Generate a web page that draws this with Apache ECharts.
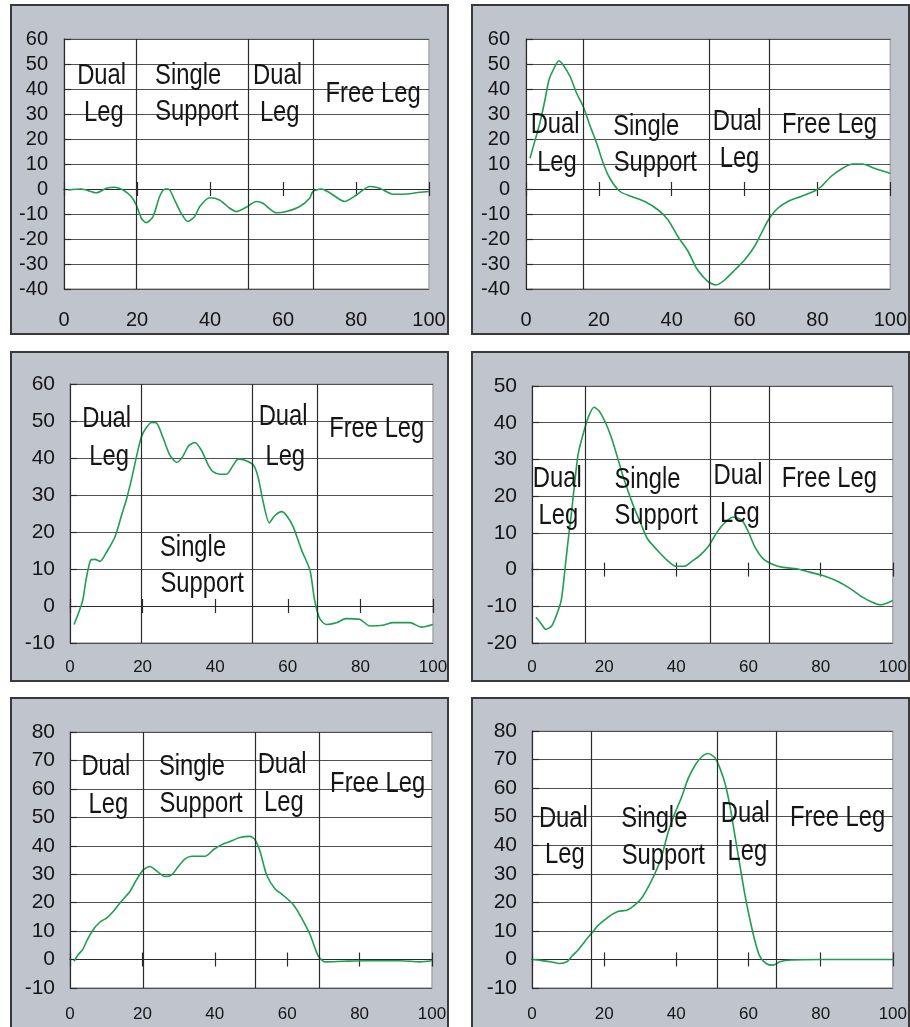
<!DOCTYPE html>
<html><head><meta charset="utf-8">
<script src="https://cdn.jsdelivr.net/npm/echarts@6/dist/echarts.min.js"></script>
<style>html,body{margin:0;padding:0;background:#fff}#c{width:910px;height:1027px}</style>
</head><body><div id="c"></div>
<script>
// ---- data ----
const curve1 = [[1.1,-0.4],[4.7,0],[8.9,-1.5],[11.6,0.3],[13.9,0.7],[16.2,-0.4],[18.4,-3],[19.8,-6.4],[21.2,-11.7],[22.5,-13.5],[24.4,-11],[26.2,-3],[27.7,0],[28.6,0],[30.3,-4.4],[32.1,-9.7],[33.9,-13],[35.8,-11],[37.2,-7],[39.9,-3.5],[42.6,-4.4],[45.4,-7.7],[47.2,-9],[49.9,-7.3],[52.7,-5],[54.5,-5.7],[58.1,-9.5],[60.9,-9],[64.6,-7],[67.3,-3.7],[68.2,-1],[70.5,0],[72.8,-1.5],[76.9,-5],[80.1,-2.4],[83.8,1],[86.5,0.3],[90.2,-2.1],[93.8,-2],[97.5,-1.3],[100,-1]];
const curve2 = [[1.1,12.3],[2.5,19.6],[3.8,26.3],[5.2,35.6],[6.3,43.6],[7.7,48.3],[9.0,51.3],[10.2,49.6],[12.1,45],[13.9,38.3],[15.7,33],[17.5,25.6],[19.4,18.3],[21.2,10.3],[23,4.3],[25.8,-1],[29,-3],[32.6,-5],[36.3,-8.4],[39,-12.4],[41.7,-19],[44.5,-25],[46.8,-31.7],[49,-35.7],[50.4,-37.5],[52.2,-38.4],[54.5,-36.4],[57.3,-32.4],[60,-28.4],[62.7,-23],[64.6,-17.7],[66.8,-11.7],[69.1,-7.7],[71.9,-5],[75.5,-3],[79.2,-0.8],[81,0.9],[83.7,5],[86.9,8.3],[89.7,10],[92.4,10],[95.6,8.3],[100,6.3]];
const curve3 = [[1.1,-5],[2.3,-2],[3.5,1.5],[4.4,7],[5.7,12.4],[6.9,12.6],[8.3,12.1],[10.1,14.6],[12.4,18.7],[14.2,24.5],[15.6,29],[17,34.5],[18.3,40.3],[19.7,45.8],[21.1,48.3],[22.5,49.6],[23.9,49.4],[25.7,45.3],[27.5,40.8],[29.4,38.8],[31,40.3],[32.6,43.2],[34.4,44.2],[36.2,42.1],[38.1,38.1],[39.4,36.3],[41.3,35.6],[43.1,35.6],[45,38.1],[46.3,39.7],[48.2,39.4],[50.5,38.1],[51.8,34.9],[53.2,28.2],[54.9,22.5],[56.4,24.4],[58.3,25.5],[59.6,24.5],[61.5,21.4],[63.8,15.1],[66.1,9.7],[67.4,1.5],[68.8,-3.4],[70.6,-5],[73.4,-4.5],[76.1,-3.4],[79.8,-3.6],[82.6,-5.4],[86.2,-5.2],[89,-4.5],[93.6,-4.5],[96.8,-5.7],[100,-5]];
const curve4 = [[1.1,-13],[2.6,-14.8],[3.8,-16.3],[5.5,-15.3],[6.9,-12.1],[8.1,-8.4],[9,-1.2],[9.9,7],[10.8,14.3],[11.7,22.4],[12.8,31.5],[14.2,37],[15.6,41.5],[17.2,44.2],[18.5,43.3],[20.1,40.6],[22,36],[23.8,30.2],[25.6,24.3],[27.9,17.9],[30.2,12.4],[32,8.4],[34.8,5.2],[37.5,2.5],[39.8,0.9],[42.1,0.9],[44.4,2.3],[46.7,4],[49,6.5],[51.3,10.2],[53.6,12.9],[55.9,14.3],[58.2,13.4],[60,10.2],[61.8,6.1],[64.1,2.9],[66.8,1.4],[69.6,0.6],[73.3,0.2],[76.9,-0.7],[80.6,-1.6],[84.2,-3],[87.9,-5],[91.6,-7.5],[94.3,-8.9],[96.6,-9.6],[100,-8.4]];
const curve5 = [[1.1,-0.6],[2.3,1.8],[3.5,3.5],[4.8,7],[6.4,10.5],[8.3,13.2],[10.1,14.6],[12,17],[13.8,19.9],[16.6,24],[18.4,28.1],[20.3,31.6],[22.1,32.7],[23.9,31.2],[26.2,29.2],[28.1,29.8],[29.9,32.7],[31.8,35.4],[33.7,36.3],[37.3,36.3],[39.6,38.6],[41.9,40.4],[44.2,41.5],[46.9,42.9],[49.7,43.3],[51.1,42.1],[52.5,38],[54.3,29.8],[56.6,24.9],[58.9,22.6],[61.7,19.3],[64,14.6],[66.3,8.8],[68.6,1.2],[70.4,-0.8],[75.5,-0.6],[81.9,-0.4],[91.2,-0.4],[96.7,-0.8],[100,-0.4]];
const curve6 = [[0.2,0],[2.8,-0.4],[5.5,-0.9],[7.6,-1.4],[9.7,-0.8],[11.1,1.2],[12.9,3.5],[14.7,6.4],[16.6,9.3],[18.4,12],[20.3,14],[22.1,15.7],[24,16.9],[26.3,17.2],[28.6,19.2],[30.4,21.5],[32.3,25.6],[34.1,30.2],[35.9,36],[37.8,44.8],[39.6,51.2],[41.5,57],[43.3,63.4],[45.2,68],[47,70.9],[48.8,72.1],[50.7,70.6],[52.1,66.9],[53.5,61.6],[54.8,54.1],[56.2,43.6],[57.6,33.1],[59,22.7],[60.4,14],[61.8,6.4],[63.1,1.2],[65,-1.5],[66.8,-2],[68.7,-0.8],[71.9,-0.2],[80.2,0],[100,0]];

const phases1 = [19.7, 50.4, 68.2];
const phases2 = [15.7, 50.4, 66.7];
const phases3 = [19.5, 50.2, 68.1];
const phases4 = [14.7, 49.5, 65.8];
const phases5 = [20.3, 51.1, 68.9];
const phases6 = [16.4, 51.3, 67.8];

const labels1 = [[10.3,45.2,'Dual'],[10.9,30.3,'Leg'],[34,45.2,'Single'],[36.4,30.9,'Support'],[58.5,45.2,'Dual'],[59.1,30.3,'Leg'],[84.7,37.9,'Free Leg']];
const labels2 = [[8,25.6,'Dual'],[8.5,10.5,'Leg'],[33,25,'Single'],[35.5,10.5,'Support'],[58,27,'Dual'],[58.6,11.9,'Leg'],[83.3,25.6,'Free Leg']];
const labels3 = [[10.1,50.5,'Dual'],[10.8,40.3,'Leg'],[33.9,15.8,'Single'],[36.4,6,'Support'],[58.7,51,'Dual'],[59.3,40.3,'Leg'],[84.5,47.8,'Free Leg']];
const labels4 = [[7,24.6,'Dual'],[7.3,14.5,'Leg'],[32,24.3,'Single'],[34.4,14.5,'Support'],[57.1,25.5,'Dual'],[57.6,15.2,'Leg'],[82.4,24.6,'Free Leg']];
const labels5 = [[9.9,67.6,'Dual'],[10.6,54.5,'Leg'],[33.7,67.6,'Single'],[36.2,54.7,'Support'],[58.6,68.4,'Dual'],[59.1,54.9,'Leg'],[85,61.8,'Free Leg']];
const labels6 = [[8.7,49.3,'Dual'],[9.1,36.6,'Leg'],[33.9,49.3,'Single'],[36.4,36.4,'Support'],[59.1,50.9,'Dual'],[59.7,37.6,'Leg'],[84.7,49.7,'Free Leg']];

const yRanges = [[-40,60],[-40,60],[-10,60],[-20,50],[-10,80],[-10,80]];
const xRange = [0, 100];
const tickStep = 10, xTickStep = 20;

// ---- layout ----
const layout = [
  {box:[11,5,437,329],  grid:{left:64, top:39, width:365,height:250}, yFont:20, xFont:20, yMargin:16, xMargin:21},
  {box:[472,5,437,329], grid:{left:526,top:39, width:365,height:250}, yFont:20, xFont:20, yMargin:16, xMargin:21},
  {box:[11,352,437,329],grid:{left:70, top:384,width:363,height:259}, yFont:21, xFont:17, yMargin:15, xMargin:16},
  {box:[472,352,437,329],grid:{left:532,top:386,width:364,height:257}, yFont:21, xFont:17, yMargin:15, xMargin:16},
  {box:[11,698,437,340],grid:{left:70, top:732,width:362,height:256}, yFont:21, xFont:17, yMargin:15, xMargin:18},
  {box:[472,698,437,340],grid:{left:532,top:731,width:361,height:257}, yFont:21, xFont:17, yMargin:15, xMargin:18}
];
const curves = [curve1,curve2,curve3,curve4,curve5,curve6];
const phases = [phases1,phases2,phases3,phases4,phases5,phases6];
const labels = [labels1,labels2,labels3,labels4,labels5,labels6];

const GREEN = '#1f9e4f', DARK = '#2b2b2b', TEXT = '#151515';
const FONT = '"Liberation Sans", Arial, sans-serif';

const boxes = layout.map(L => ({type:'rect', z:-100, shape:{x:L.box[0],y:L.box[1],width:L.box[2],height:L.box[3]},
    style:{fill:'#c0c4cc', stroke:'#3a3a3a', lineWidth:2}}));
const option = {animation:false, backgroundColor:'#fff', graphic:boxes, grid:[], xAxis:[], yAxis:[], series:[]};
layout.forEach((L,i)=>{
  option.grid.push(Object.assign({show:true, backgroundColor:'#fff', borderColor:'#a8a8a8', borderWidth:1.5}, L.grid));
  const base = {type:'value', gridIndex:i, min:xRange[0], max:xRange[1], interval:xTickStep, splitLine:{show:false}};
  option.xAxis.push(Object.assign({}, base, {position:'bottom',
    axisLine:{show:false,onZero:false}, axisTick:{show:false},
    axisLabel:{fontSize:L.xFont, color:TEXT, margin:L.xMargin, fontFamily:FONT}}));
  option.xAxis.push(Object.assign({}, base, {position:'bottom',
    axisLine:{show:true,onZero:true,onZeroAxisIndex:i,lineStyle:{color:DARK,width:1.2}},
    axisTick:{show:true,length:7,lineStyle:{color:DARK,width:1.2}}, axisLabel:{show:false}}));
  option.xAxis.push(Object.assign({}, base, {position:'top',
    axisLine:{show:false,onZero:true,onZeroAxisIndex:i},
    axisTick:{show:true,length:7,lineStyle:{color:DARK,width:1.2}}, axisLabel:{show:false}}));
  option.yAxis.push({type:'value', gridIndex:i, min:yRanges[i][0], max:yRanges[i][1], interval:tickStep,
    axisLine:{show:true,onZero:false,lineStyle:{color:DARK,width:1.2}},
    axisTick:{show:true,inside:true,length:7,lineStyle:{color:DARK,width:1.2}},
    splitLine:{show:true,lineStyle:{color:'#505050',width:1}},
    axisLabel:{fontSize:L.yFont, color:TEXT, margin:L.yMargin, fontFamily:FONT}});
  option.series.push({type:'line', xAxisIndex:3*i, yAxisIndex:i, data:curves[i], showSymbol:false, smooth:0.25,
    lineStyle:{color:GREEN,width:1.6}, z:3, clip:true,
    markLine:{silent:true, symbol:'none', label:{show:false}, animation:false,
      lineStyle:{color:DARK,width:1.2,type:'solid'}, data:phases[i].map(v=>({xAxis:v}))}});
});
const chart = echarts.init(document.getElementById('c'), null, {renderer:'canvas'});
chart.setOption(option);

// phase annotations, placed at data coordinates through the axes
const texts = [];
labels.forEach((arr,i)=>{
  arr.forEach(l=>{
    const p = chart.convertToPixel({xAxisIndex:3*i, yAxisIndex:i}, [l[0], l[1]]);
    texts.push({type:'text', x:p[0], y:p[1], scaleX:0.82, z:50,
      style:{text:l[2], fontSize:29, fontFamily:FONT, fill:TEXT, align:'center', verticalAlign:'middle'}});
  });
});
chart.setOption({graphic: boxes.concat(texts)});
</script></body></html>
